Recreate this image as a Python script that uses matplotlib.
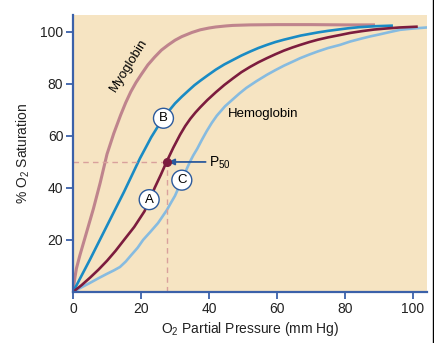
import matplotlib
matplotlib.use("Agg")
import matplotlib.pyplot as plt
from matplotlib.lines import Line2D

plt.rcParams['font.family'] = ['Liberation Sans', 'DejaVu Sans']
plt.rcParams['mathtext.default'] = 'regular'

# O2 partial pressure (mm Hg) vs % saturation
myo_x = [0, 0.5, 1, 2, 3, 4, 5, 6, 7, 8, 9, 10, 11, 12, 13, 14, 15.5, 17, 18.5, 20,
         22, 24, 26, 28, 30, 32, 35, 37.4, 40, 42, 45, 47, 52, 60, 70, 80, 88.8]
myo_y = [0, 5, 9, 14, 18.5, 23, 27.5, 32, 37, 42, 47.5, 53, 57, 61, 64.5, 68, 72.8, 77, 80.5, 83.5,
         87.3, 90.3, 93, 95, 96.8, 98.2, 99.8, 100.8, 101.5, 101.9, 102.3, 102.5, 102.7,
         102.8, 102.8, 102.7, 102.7]

b_x = [0, 5, 10, 15, 19.7, 21.5, 23, 24.8, 26.6, 28.3, 30, 32, 34, 35.7, 37.4, 39.5, 42,
       44.5, 47, 49.5, 52, 54.5, 57, 59.5, 62, 64.5, 67, 69.5, 72, 75, 78.5, 81, 84, 86.5,
       89, 91.5, 93.7]
b_y = [0, 12.5, 25.5, 38.5, 51.4, 55.8, 59.5, 63.3, 66.8, 69.8, 72.5, 75.1, 77.5, 79.5,
       81.2, 83.2, 85.5, 87.5, 89.2, 90.9, 92.4, 93.8, 95, 96.1, 97, 97.8, 98.6, 99.2, 99.8,
       100.4, 101, 101.4, 101.8, 102, 102.2, 102.3, 102.4]

a_x = [0, 2.5, 5, 7.5, 10, 12.5, 15, 18, 21, 22.5, 24, 25.8, 27.5, 29.5, 31.5, 33, 34.5,
       36, 37.4, 39.5, 42, 44.5, 47.1, 49.5, 52, 54.5, 57, 59.5, 62, 64.5, 66.8, 69.5, 72,
       75, 78.5, 81.5, 85, 88.5, 92, 96, 101]
a_y = [0, 2.6, 5.5, 8.6, 12, 15.8, 20, 25, 31, 35.2, 40, 45, 50, 55.5, 60.5, 63.8, 66.6,
       69, 71, 73.8, 76.8, 79.6, 82.2, 84.5, 86.5, 88.3, 89.9, 91.4, 92.8, 94, 95, 96.1, 97,
       97.9, 98.8, 99.6, 100.3, 100.9, 101.3, 101.7, 102]

c_x = [0, 2.5, 5, 7.5, 10, 12, 13.8, 15.5, 17, 19, 20.6, 22.8, 25, 26.3, 27.6, 28.8, 30,
       31, 32, 33.2, 34.4, 35.4, 36.5, 37.9, 39.3, 40.8, 42.3, 44.7, 47.1, 49, 51, 54, 57,
       59.5, 62, 64.5, 66.8, 69.5, 72, 75, 78.5, 81.5, 85, 87.5, 90, 93, 96.2, 100, 104]
c_y = [0, 1.8, 3.5, 5.3, 7, 8.3, 9.6, 11.7, 14, 17, 20, 23.2, 26.5, 29, 31.5, 34.3, 37,
       40, 43, 46.6, 50.1, 52.6, 55, 58.5, 61.8, 65, 67.8, 71.4, 74.2, 76.4, 78.5, 81.1,
       83.5, 85.3, 87, 88.5, 89.9, 91.3, 92.5, 93.8, 95, 96.3, 97.5, 98.3, 99, 99.9, 100.8,
       101.3, 101.7]

p50_x, p50_y = 27.5, 50

labels = ["A", "B", "C"]
label_x = [22.4, 26.6, 32]
label_y = [35.5, 66.8, 43]

fig = plt.figure(figsize=(4.35, 3.43), dpi=100)
ax = fig.add_axes([73 / 435, 1 - 292 / 343, 354 / 435, 277 / 343])
ax.set_facecolor('#f6e4c2')

spine_col = '#3b61a9'
ax.plot(myo_x, myo_y, color='#bf848d', lw=2.2, solid_capstyle='butt')
ax.plot(b_x, b_y, color='#1a8bc4', lw=1.9)
ax.plot(c_x, c_y, color='#86bbe0', lw=1.9)
ax.plot(a_x, a_y, color='#7c1c3e', lw=1.9)

# P50 guides
ax.plot([0, p50_x], [p50_y, p50_y], color='#d9a09c', lw=1, ls=(0, (4, 3)))
ax.plot([p50_x, p50_x], [0, p50_y], color='#d9a09c', lw=1, ls=(0, (4, 3)))
ax.plot(p50_x, p50_y, 'o', color='#7c1c3e', ms=5.5, zorder=5)
ax.annotate('', xy=(p50_x + 0.5, p50_y), xytext=(p50_x + 11.5, p50_y),
            arrowprops=dict(arrowstyle='-|>', color='#2c5a9c', lw=1.3,
                            mutation_scale=9, shrinkA=0, shrinkB=0))
ax.text(p50_x + 12.5, p50_y - 0.5, 'P$_{50}$', fontsize=10, va='center', ha='left')

for lab, lx, ly in zip(labels, label_x, label_y):
    ax.text(lx, ly, lab, fontsize=9.5, ha='center', va='center', zorder=6,
            bbox=dict(boxstyle='circle,pad=0.3', fc='white', ec='#2c5a9c', lw=1))

ax.text(16.3, 87, 'Myoglobin', fontsize=9.5, rotation=58, ha='center', va='center')
ax.text(45.5, 68.5, 'Hemoglobin', fontsize=9.5, ha='left', va='center')

ax.set_xlim(0, 104.1)
ax.set_ylim(0, 106.5)
ax.set_xticks([0, 20, 40, 60, 80, 100])
ax.set_yticks([20, 40, 60, 80, 100])
ax.tick_params(colors=spine_col, labelcolor='#222222', labelsize=10, width=1.3, length=5, pad=2)
for side in ['top', 'right']:
    ax.spines[side].set_visible(False)
for side in ['left', 'bottom']:
    ax.spines[side].set_color(spine_col)
    ax.spines[side].set_linewidth(1.6)

ax.set_xlabel('O$_2$ Partial Pressure (mm Hg)', fontsize=10, color='#222222', labelpad=3)
ax.set_ylabel('% O$_2$ Saturation', fontsize=10, color='#222222', labelpad=6)

fig.add_artist(Line2D([433 / 435, 433 / 435], [0, 1], color='black', lw=1))

fig.savefig('out.png', dpi=100)
